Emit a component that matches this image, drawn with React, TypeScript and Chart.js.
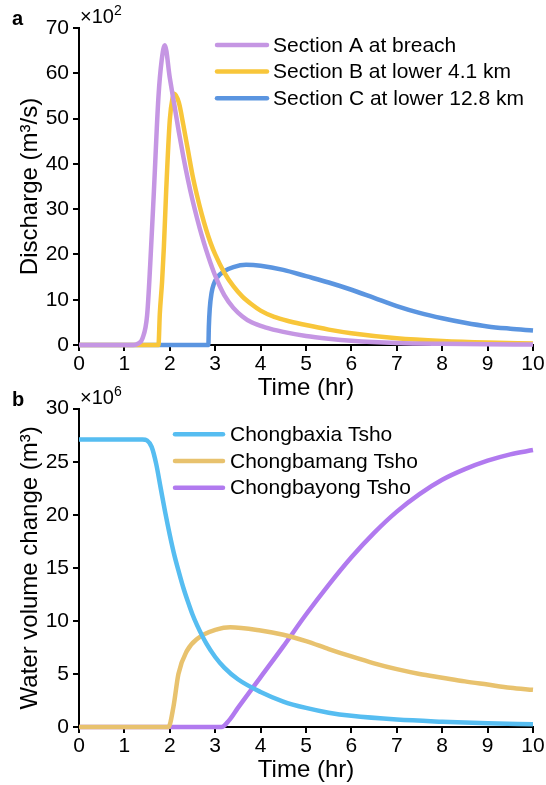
import React, { useEffect, useRef } from "react";
import { Chart, registerables } from "chart.js";

Chart.register(...registerables);

const FONT = '"Liberation Sans", Arial, Helvetica, sans-serif';

// ---------- Panel a: discharge (×10² m³/s) ----------
const timeA = [0, 1.2, 1.3, 1.4, 1.5, 1.57, 1.65, 1.75, 1.82, 1.89, 2.0, 2.1, 2.2, 2.3, 2.4, 2.5, 2.6, 2.7, 2.8, 2.9, 3.0, 3.2, 3.4, 3.6, 3.8, 4.1, 4.5, 5.0, 5.5, 6.0, 7, 8, 9, 10];
const dischargeA = [0, 0, 0.3, 1.5, 6.5, 18, 34, 54.8, 62.8, 66.2, 59, 53, 47, 41.5, 36.5, 32, 28, 24.3, 21, 18, 15.3, 11, 8.2, 6.3, 5.0, 3.9, 2.9, 2.0, 1.4, 0.95, 0.45, 0.25, 0.15, 0.1];

const timeB = [0, 1.75, 1.78, 1.83, 1.87, 1.92, 2.0, 2.06, 2.1, 2.2, 2.3, 2.4, 2.5, 2.6, 2.7, 2.8, 2.9, 3.0, 3.2, 3.4, 3.6, 3.8, 4.0, 4.3, 4.65, 5.0, 5.5, 6.0, 7, 8, 9, 10];
const dischargeB = [0, 0, 6.9, 14, 21.7, 34, 49.7, 54.5, 55.5, 53.5, 48.5, 43, 37.5, 33, 29, 25.5, 22.5, 20, 16, 13, 10.7, 9.0, 7.6, 6.2, 5.2, 4.4, 3.4, 2.6, 1.5, 0.9, 0.55, 0.35];

const timeC = [0, 2.85, 2.86, 2.88, 2.92, 2.97, 3.05, 3.2, 3.4, 3.68, 4.0, 4.5, 5.0, 5.5, 6.0, 6.5, 7.0, 7.5, 8.0, 8.5, 9.0, 9.5, 10];
const dischargeC = [0, 0, 4, 8, 11.5, 13.5, 15, 16.3, 17.2, 17.7, 17.5, 16.6, 15.2, 13.8, 12.2, 10.4, 8.6, 7.1, 5.9, 4.9, 4.1, 3.6, 3.2];

const seriesNamesA = ["Section A at breach", "Section B at lower 4.1 km", "Section C at lower 12.8 km"];
const coloursA = ["#C596E3", "#F8C63A", "#5B95E0"];
const yTicksA = [0, 10, 20, 30, 40, 50, 60, 70];

// ---------- Panel b: water volume change (×10⁶ m³) ----------
const timeX = [0, 1.4, 1.5, 1.6, 1.7, 1.8, 1.9, 2.0, 2.1, 2.2, 2.3, 2.4, 2.5, 2.6, 2.8, 3.0, 3.2, 3.5, 4.0, 4.5, 5.0, 5.5, 6.0, 7, 8, 9, 10];
const volumeX = [27.1, 27.1, 27.0, 26.4, 24.8, 22.5, 20.2, 18.1, 16.2, 14.6, 13.1, 11.8, 10.6, 9.6, 7.9, 6.6, 5.6, 4.5, 3.3, 2.4, 1.8, 1.35, 1.05, 0.7, 0.5, 0.35, 0.25];

const timeM = [0, 1.97, 2.08, 2.19, 2.38, 2.6, 3.04, 3.33, 4.0, 4.5, 5.0, 5.5, 6.0, 6.5, 7.0, 7.5, 8.0, 8.5, 9.0, 9.5, 10];
const volumeM = [0, 0, 1.9, 5, 7.2, 8.3, 9.2, 9.4, 9.1, 8.7, 8.1, 7.35, 6.65, 6.0, 5.45, 5.0, 4.65, 4.3, 4.0, 3.7, 3.5];

const timeY = [0, 3.14, 3.3, 3.5, 4.0, 4.5, 5.0, 5.5, 6.0, 6.5, 7.0, 7.5, 8.0, 8.5, 9.0, 9.5, 10];
const volumeY = [0, 0, 0.6, 1.8, 4.7, 7.6, 10.6, 13.4, 16.0, 18.3, 20.3, 21.95, 23.3, 24.3, 25.1, 25.7, 26.1];

const seriesNamesB = ["Chongbaxia Tsho", "Chongbamang Tsho", "Chongbayong Tsho"];
const coloursB = ["#56BDF1", "#E8C26E", "#B17AEF"];
const yTicksB = [0, 5, 10, 15, 20, 25, 30];

const xTicks = [0, 1, 2, 3, 4, 5, 6, 7, 8, 9, 10];

type PanelCfg = {
  letter: string;
  letterY: number;
  exponent: string;
  expY: number;
  legendLineX: number;
  legendLineLen: number;
  legendTextX: number;
  legendY: number;
  legendStep: number;
};

function makeOverlay(p: PanelCfg) {
  return {
    id: "overlay",
    afterDatasetsDraw(chart: any) {
      const ctx = chart.ctx;
      const area = chart.chartArea;
      ctx.save();
      ctx.fillStyle = "#000";
      ctx.font = `bold 20px ${FONT}`;
      ctx.textBaseline = "alphabetic";
      ctx.textAlign = "left";
      ctx.fillText(p.letter, 12, p.letterY);
      ctx.font = `20px ${FONT}`;
      const base = "\u00d710";
      ctx.fillText(base, area.left + 1, p.expY);
      const w = ctx.measureText(base).width;
      ctx.font = `14px ${FONT}`;
      ctx.fillText(p.exponent, area.left + 1 + w, p.expY - 8);
      chart.data.datasets.forEach((ds: any, i: number) => {
        const y = p.legendY + i * p.legendStep;
        ctx.strokeStyle = ds.borderColor;
        ctx.lineWidth = 4.5;
        ctx.lineCap = "round";
        ctx.beginPath();
        ctx.moveTo(p.legendLineX, y);
        ctx.lineTo(p.legendLineX + p.legendLineLen, y);
        ctx.stroke();
        ctx.fillStyle = "#000";
        ctx.font = `21px ${FONT}`;
        ctx.textBaseline = "middle";
        ctx.fillText(ds.label, p.legendTextX, y + 1);
      });
      ctx.restore();
    },
  };
}

function makeConfig(
  times: number[][],
  values: number[][],
  names: string[],
  colours: string[],
  yTicks: number[],
  yTitle: string,
  padding: any,
  panel: PanelCfg
): any {
  const datasets = names.map((name, i) => ({
    label: name,
    data: times[i].map((t, j) => ({ x: t, y: values[i][j] })),
    borderColor: colours[i],
    backgroundColor: colours[i],
    borderWidth: 4.5,
    pointRadius: 0,
    cubicInterpolationMode: "monotone",
    fill: false,
    clip: false,
  }));
  const axisCommon = {
    border: { display: true, color: "#000", width: 2 },
    grid: {
      display: true,
      drawOnChartArea: false,
      drawTicks: true,
      tickLength: 6,
      color: "#000",
      lineWidth: 2,
    },
  };
  return {
    type: "line",
    data: { datasets },
    options: {
      responsive: false,
      animation: false,
      devicePixelRatio: 1,
      layout: { padding },
      plugins: {
        legend: { display: false },
        tooltip: { enabled: false },
        title: { display: false },
      },
      scales: {
        x: {
          ...axisCommon,
          type: "linear",
          min: xTicks[0],
          max: xTicks[xTicks.length - 1],
          afterBuildTicks: (s: any) => {
            s.ticks = xTicks.map((v) => ({ value: v }));
          },
          afterFit: (s: any) => {
            s.height = 58;
          },
          ticks: {
            color: "#000",
            font: { family: FONT, size: 21 },
            padding: 1,
            maxRotation: 0,
            autoSkip: false,
          },
          title: {
            display: true,
            text: "Time (hr)",
            color: "#000",
            font: { family: FONT, size: 24 },
            padding: 0,
          },
        },
        y: {
          ...axisCommon,
          type: "linear",
          min: yTicks[0],
          max: yTicks[yTicks.length - 1],
          afterBuildTicks: (s: any) => {
            s.ticks = yTicks.map((v) => ({ value: v }));
          },
          afterFit: (s: any) => {
            s.width = 79;
          },
          ticks: {
            color: "#000",
            font: { family: FONT, size: 21 },
            padding: 4,
            autoSkip: false,
          },
          title: {
            display: true,
            text: yTitle,
            color: "#000",
            font: { family: FONT, size: 24 },
            padding: { top: 15.6, bottom: 0 },
          },
        },
      },
    },
    plugins: [makeOverlay(panel)],
  };
}

export default function App() {
  const refA = useRef<HTMLCanvasElement>(null);
  const refB = useRef<HTMLCanvasElement>(null);

  useEffect(() => {
    const chartA = new Chart(
      refA.current as HTMLCanvasElement,
      makeConfig(
        [timeA, timeB, timeC],
        [dischargeA, dischargeB, dischargeC],
        seriesNamesA,
        coloursA,
        yTicksA,
        "Discharge (m\u00b3/s)",
        { left: 0, right: 13, top: 28, bottom: 785 - 345 - 58 },
        {
          letter: "a",
          letterY: 25,
          exponent: "2",
          expY: 23,
          legendLineX: 217,
          legendLineLen: 50,
          legendTextX: 273,
          legendY: 45,
          legendStep: 26.6,
        }
      )
    );
    const chartB = new Chart(
      refB.current as HTMLCanvasElement,
      makeConfig(
        [timeX, timeM, timeY],
        [volumeX, volumeM, volumeY],
        seriesNamesB,
        coloursB,
        yTicksB,
        "Water volume change (m\u00b3)",
        { left: 0, right: 13, top: 408.7, bottom: 0 },
        {
          letter: "b",
          letterY: 406,
          exponent: "6",
          expY: 404,
          legendLineX: 175,
          legendLineLen: 48,
          legendTextX: 230,
          legendY: 434.3,
          legendStep: 26.7,
        }
      )
    );
    return () => {
      chartA.destroy();
      chartB.destroy();
    };
  }, []);

  const canvasStyle: React.CSSProperties = {
    position: "absolute",
    left: 0,
    top: 0,
    width: 546,
    height: 785,
  };

  return (
    <div style={{ position: "absolute", left: 0, top: 0, width: 546, height: 785, background: "#fff" }}>
      <canvas ref={refA} width={546} height={785} style={canvasStyle} />
      <canvas ref={refB} width={546} height={785} style={canvasStyle} />
    </div>
  );
}
